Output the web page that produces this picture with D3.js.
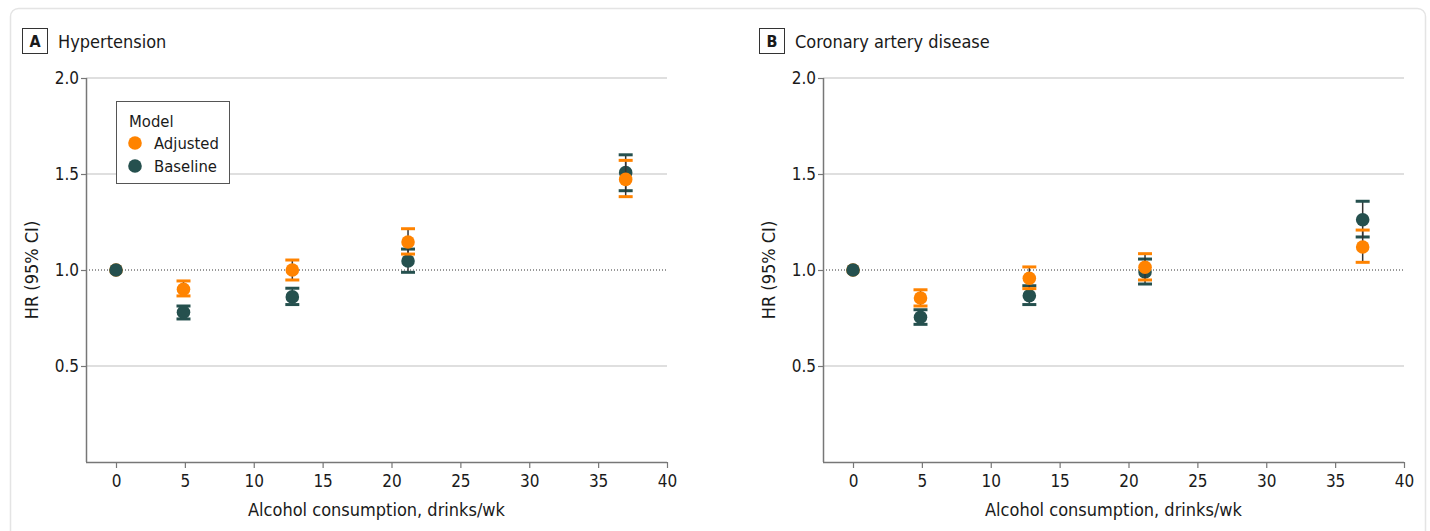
<!DOCTYPE html>
<html>
<head>
<meta charset="utf-8">
<script src="https://cdn.jsdelivr.net/npm/d3@7"></script>
<style>
  body { margin: 0; background: #fff; }
  text { font-family: "DejaVu Sans Condensed", "DejaVu Sans", sans-serif; fill: #1a1a1a; }
</style>
</head>
<body>
<div id="chart"></div>
<script>
// Data
const drinks = [0, 4.9, 12.8, 21.2, 37.0];
const series_names = ["Adjusted", "Baseline"];

const htn_adjusted = [1.0, 0.90, 1.0, 1.146, 1.472];
const htn_adjusted_lo = [1.0, 0.865, 0.948, 1.083, 1.382];
const htn_adjusted_hi = [1.0, 0.943, 1.052, 1.215, 1.571];
const htn_baseline = [1.0, 0.78, 0.86, 1.047, 1.507];
const htn_baseline_lo = [1.0, 0.745, 0.82, 0.988, 1.413];
const htn_baseline_hi = [1.0, 0.8125, 0.905, 1.109, 1.60];

const cad_adjusted = [1.0, 0.854, 0.957, 1.014, 1.12];
const cad_adjusted_lo = [1.0, 0.8125, 0.903, 0.948, 1.04];
const cad_adjusted_hi = [1.0, 0.897, 1.016, 1.085, 1.208];
const cad_baseline = [1.0, 0.754, 0.866, 0.99, 1.262];
const cad_baseline_lo = [1.0, 0.717, 0.82, 0.927, 1.172];
const cad_baseline_hi = [1.0, 0.793, 0.918, 1.057, 1.358];

const x_ticks = [0, 5, 10, 15, 20, 25, 30, 35, 40];
const y_ticks = [0.5, 1.0, 1.5, 2.0];

const chart_width = 1430;
const chart_height = 531;
const colors = {Adjusted: "#ff8300", Baseline: "#25504e"};

const svg = d3.select("#chart")
    .append("svg")
    .attr("width", chart_width)
    .attr("height", chart_height);

// Card
svg.append("rect")
    .attr("x", 10.5).attr("y", 8.5)
    .attr("width", 1415).attr("height", 540)
    .attr("rx", 8)
    .attr("fill", "#fff")
    .attr("stroke", "#e4e4e4")
    .attr("stroke-width", 1.5);

function build(vals, lo, hi, name) {
    return drinks.map((d, i) => ({x: d, y: vals[i], lo: lo[i], hi: hi[i], name: name}));
}

function drawPanel(offset, letter, title, adjusted, baseline, showLegend) {
    const g = svg.append("g").attr("transform", `translate(${offset},0)`);

    const x_scale = d3.scaleLinear().domain([0, 40]).range([116, 667]);
    const y_scale = d3.scaleLinear().domain([0, 2]).range([462, 78]);
    const left = 86;

    // Panel label
    g.append("rect")
        .attr("x", 22.5).attr("y", 28.5)
        .attr("width", 25).attr("height", 25)
        .attr("fill", "none").attr("stroke", "#333").attr("stroke-width", 1);
    g.append("text")
        .attr("x", 35).attr("y", 47)
        .attr("text-anchor", "middle")
        .attr("font-weight", "bold")
        .attr("font-size", 16)
        .text(letter);
    g.append("text")
        .attr("x", 58).attr("y", 47.5)
        .attr("font-size", 18)
        .text(title);

    // Gridlines
    g.append("g").selectAll("line")
        .data(y_ticks.filter(t => t !== 1.0))
        .join("line")
        .attr("x1", left).attr("x2", x_scale(40))
        .attr("y1", d => y_scale(d)).attr("y2", d => y_scale(d))
        .attr("stroke", "#d4d4d4").attr("stroke-width", 1.5);

    g.append("line")
        .attr("x1", left).attr("x2", x_scale(40))
        .attr("y1", y_scale(1)).attr("y2", y_scale(1))
        .attr("stroke", "#333").attr("stroke-width", 1)
        .attr("stroke-dasharray", "1,2");

    // Axes
    const x_axis = d3.axisBottom(x_scale).tickValues(x_ticks).tickSize(6).tickSizeOuter(0);
    const y_axis = d3.axisLeft(y_scale).tickValues(y_ticks).tickSize(5).tickSizeOuter(0)
        .tickFormat(d3.format(".1f"));

    const xg = g.append("g")
        .attr("transform", `translate(0, ${y_scale(0)})`)
        .call(x_axis);
    xg.select(".domain").attr("d", `M${left},0.5H${x_scale(40)}`);

    const yg = g.append("g")
        .attr("transform", `translate(${left}, 0)`)
        .call(y_axis);
    yg.select(".domain").attr("d", `M0.5,${y_scale(2)}V${y_scale(0)}`);

    [xg, yg].forEach(a => {
        a.select(".domain").attr("stroke", "#777").attr("stroke-width", 1.5);
        a.selectAll(".tick line").attr("stroke", "#777").attr("stroke-width", 1.2);
        a.selectAll(".tick text")
            .attr("font-family", '"DejaVu Sans Condensed", "DejaVu Sans", sans-serif')
            .attr("font-size", 17)
            .attr("fill", "#1a1a1a");
    });
    xg.selectAll(".tick text").attr("dy", "0.95em").attr("y", 9);
    yg.selectAll(".tick text").attr("x", -7);

    g.append("text")
        .attr("x", (left + x_scale(40)) / 2).attr("y", 516)
        .attr("text-anchor", "middle")
        .attr("font-size", 18)
        .text("Alcohol consumption, drinks/wk");

    g.append("text")
        .attr("transform", `translate(38, ${y_scale(1)}) rotate(-90)`)
        .attr("text-anchor", "middle")
        .attr("font-size", 18)
        .text("HR (95% CI)");

    // Marks
    const marks = g.append("g");
    function drawSeries(data) {
        const s = marks.append("g");
        const withCi = data.filter(d => d.lo !== d.hi);
        s.selectAll(".stem").data(withCi).join("line")
            .attr("x1", d => x_scale(d.x)).attr("x2", d => x_scale(d.x))
            .attr("y1", d => y_scale(d.lo)).attr("y2", d => y_scale(d.hi))
            .attr("stroke", "#333").attr("stroke-width", 1.5);
        ["lo", "hi"].forEach(k => {
            s.selectAll(".cap-" + k).data(withCi).join("line")
                .attr("x1", d => x_scale(d.x) - 7).attr("x2", d => x_scale(d.x) + 7)
                .attr("y1", d => y_scale(d[k])).attr("y2", d => y_scale(d[k]))
                .attr("stroke", d => colors[d.name]).attr("stroke-width", 3);
        });
        s.selectAll("circle").data(data).join("circle")
            .attr("cx", d => x_scale(d.x)).attr("cy", d => y_scale(d.y))
            .attr("r", 6.8)
            .attr("fill", d => colors[d.name]);
    }
    drawSeries(adjusted.filter(d => d.x === 0));
    drawSeries(baseline);
    drawSeries(adjusted.filter(d => d.x !== 0));

    // Legend
    if (showLegend) {
        const lg = g.append("g");
        lg.append("rect")
            .attr("x", 116.5).attr("y", 101.5)
            .attr("width", 113).attr("height", 82)
            .attr("fill", "#fff").attr("stroke", "#555").attr("stroke-width", 1);
        lg.append("text")
            .attr("x", 129).attr("y", 127)
            .attr("font-size", 16.5)
            .text("Model");
        series_names.forEach((n, i) => {
            lg.append("circle")
                .attr("cx", 135).attr("cy", 143 + i * 23)
                .attr("r", 6.8).attr("fill", colors[n]);
            lg.append("text")
                .attr("x", 154).attr("y", 149 + i * 23)
                .attr("font-size", 16.5)
                .text(n);
        });
    }
}

drawPanel(0, "A", "Hypertension",
    build(htn_adjusted, htn_adjusted_lo, htn_adjusted_hi, "Adjusted"),
    build(htn_baseline, htn_baseline_lo, htn_baseline_hi, "Baseline"), true);

drawPanel(737, "B", "Coronary artery disease",
    build(cad_adjusted, cad_adjusted_lo, cad_adjusted_hi, "Adjusted"),
    build(cad_baseline, cad_baseline_lo, cad_baseline_hi, "Baseline"), false);
</script>
</body>
</html>
